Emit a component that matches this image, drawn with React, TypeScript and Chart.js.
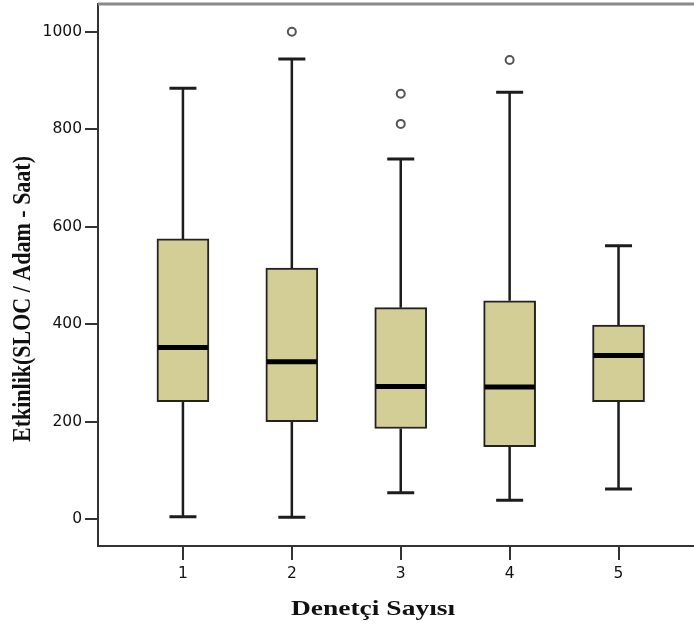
import React, { useEffect, useRef } from 'react';
import { Chart, registerables } from 'chart.js';

Chart.register(...registerables);

// ---- data ----
const groups = [1, 2, 3, 4, 5];
const xTickLabels = ['1', '2', '3', '4', '5'];
const whiskerLow = [5, 4, 54, 39, 62];
const q1 = [241, 200, 186, 149, 241];
const median = [352, 323, 272, 271, 336];
const q3 = [575, 515, 434, 448, 398];
const whiskerHigh = [884, 944, 739, 876, 561];
const outlierGroup = [2, 3, 3, 4];
const outlierValue = [1000, 873, 811, 942];
const yTicks = [0, 200, 400, 600, 800, 1000];

const X_TITLE = 'Denetçi Sayısı';
const Y_TITLE = 'Etkinlik(SLOC / Adam - Saat)';

const BOX_PX = 52;
const CAP_PX = 27;
const INK = '#1c1c1c';

const boxPlugin = {
  id: 'boxParts',
  beforeDatasetsDraw(chart: any) {
    const { ctx, scales } = chart;
    const x = scales.x;
    const y = scales.y;
    ctx.save();
    ctx.strokeStyle = INK;
    ctx.lineCap = 'butt';
    groups.forEach((g, i) => {
      const px = x.getPixelForValue(g);
      const yHi = y.getPixelForValue(whiskerHigh[i]);
      const yLo = y.getPixelForValue(whiskerLow[i]);
      const yQ1 = y.getPixelForValue(q1[i]);
      const yQ3 = y.getPixelForValue(q3[i]);
      ctx.lineWidth = 2.5;
      ctx.beginPath();
      ctx.moveTo(px, yQ3);
      ctx.lineTo(px, yHi);
      ctx.moveTo(px, yQ1);
      ctx.lineTo(px, yLo);
      ctx.stroke();
      ctx.lineWidth = 3;
      ctx.beginPath();
      ctx.moveTo(px - CAP_PX / 2, yHi);
      ctx.lineTo(px + CAP_PX / 2, yHi);
      ctx.moveTo(px - CAP_PX / 2, yLo);
      ctx.lineTo(px + CAP_PX / 2, yLo);
      ctx.stroke();
    });
    ctx.restore();
  },
  afterDatasetsDraw(chart: any) {
    const { ctx, scales } = chart;
    const x = scales.x;
    const y = scales.y;
    ctx.save();
    ctx.strokeStyle = '#000';
    ctx.lineWidth = 5;
    groups.forEach((g, i) => {
      const px = x.getPixelForValue(g);
      const ym = y.getPixelForValue(median[i]);
      ctx.beginPath();
      ctx.moveTo(px - BOX_PX / 2 + 1, ym);
      ctx.lineTo(px + BOX_PX / 2 - 1, ym);
      ctx.stroke();
    });
    ctx.restore();
  },
  afterDraw(chart: any) {
    const { ctx, chartArea } = chart;
    ctx.save();
    // top frame line
    ctx.strokeStyle = '#8a8a8a';
    ctx.lineWidth = 3;
    ctx.beginPath();
    ctx.moveTo(chartArea.left, chartArea.top);
    ctx.lineTo(chartArea.right, chartArea.top);
    ctx.stroke();
    // x title
    ctx.fillStyle = '#111';
    ctx.textAlign = 'center';
    ctx.textBaseline = 'alphabetic';
    ctx.save();
    ctx.translate(chartArea.left + 275, chartArea.bottom + 69);
    ctx.scale(1.25, 1);
    ctx.font = 'bold 22px "Liberation Serif"';
    ctx.fillText(X_TITLE, 0, 0);
    ctx.restore();
    // y title
    ctx.save();
    ctx.translate(30, chartArea.top + 295);
    ctx.scale(1.15, 1);
    ctx.rotate(-Math.PI / 2);
    ctx.font = 'bold 22px "Liberation Serif"';
    ctx.fillText(Y_TITLE, 0, 0);
    ctx.restore();
    ctx.restore();
  },
};

export default function App() {
  const ref = useRef<HTMLCanvasElement | null>(null);

  useEffect(() => {
    if (!ref.current) return;
    const chart = new Chart(ref.current, {
      type: 'bar',
      data: {
        datasets: [
          {
            type: 'bar',
            data: groups.map((g, i) => ({ x: g, y: [q1[i], q3[i]] })) as any,
            backgroundColor: '#D3CE96',
            borderColor: '#222',
            borderWidth: 2,
            borderSkipped: false,
            barThickness: BOX_PX,
          } as any,
          {
            type: 'scatter',
            data: outlierGroup.map((g, i) => ({ x: g, y: outlierValue[i] })),
            pointRadius: 4,
            pointBorderWidth: 2,
            pointBackgroundColor: '#fff',
            pointBorderColor: '#555',
            showLine: false,
          } as any,
        ],
      },
      options: {
        responsive: false,
        animation: false,
        devicePixelRatio: 1,
        layout: { autoPadding: false, padding: { top: 4, right: 0, left: 0, bottom: 0 } },
        plugins: {
          legend: { display: false },
          tooltip: { enabled: false },
          title: { display: false },
        },
        scales: {
          x: {
            type: 'linear',
            min: 0.22,
            max: 5.693,
            offset: false,
            grid: {
              display: true,
              drawOnChartArea: false,
              drawTicks: true,
              tickLength: 14,
              tickColor: '#333',
              lineWidth: 2,
              offset: false,
            },
            border: { display: true, color: '#333', width: 2 },
            ticks: {
              autoSkip: false,
              maxRotation: 0,
              padding: 5,
              color: '#111',
              font: { family: '"DejaVu Sans"', size: 15.5 },
              callback: (v: any) => {
                const idx = groups.indexOf(Number(v));
                return idx >= 0 ? xTickLabels[idx] : '';
              },
            },
            afterBuildTicks: (scale: any) => {
              scale.ticks = groups.map((v) => ({ value: v }));
            },
            afterFit: (scale: any) => {
              scale.height = 86;
              scale.paddingLeft = 0;
              scale.paddingRight = 0;
            },
          } as any,
          y: {
            type: 'linear',
            min: -55,
            max: 1057,
            grid: {
              display: true,
              drawOnChartArea: false,
              drawTicks: true,
              tickLength: 13,
              tickColor: '#333',
              lineWidth: 2,
            },
            border: { display: true, color: '#333', width: 2 },
            ticks: {
              padding: 3,
              color: '#111',
              font: { family: '"DejaVu Sans"', size: 15.5 },
              callback: (v: any) => String(v),
            },
            afterBuildTicks: (scale: any) => {
              scale.ticks = yTicks.map((v) => ({ value: v }));
            },
            afterFit: (scale: any) => {
              scale.width = 98;
              scale.paddingTop = 0;
              scale.paddingBottom = 0;
            },
          } as any,
        },
      },
      plugins: [boxPlugin],
    });
    return () => chart.destroy();
  }, []);

  return (
    <div style={{ position: 'absolute', left: 0, top: 0, width: 694, height: 632, background: '#fff' }}>
      <canvas ref={ref} width={694} height={632} style={{ display: 'block' }} />
    </div>
  );
}
